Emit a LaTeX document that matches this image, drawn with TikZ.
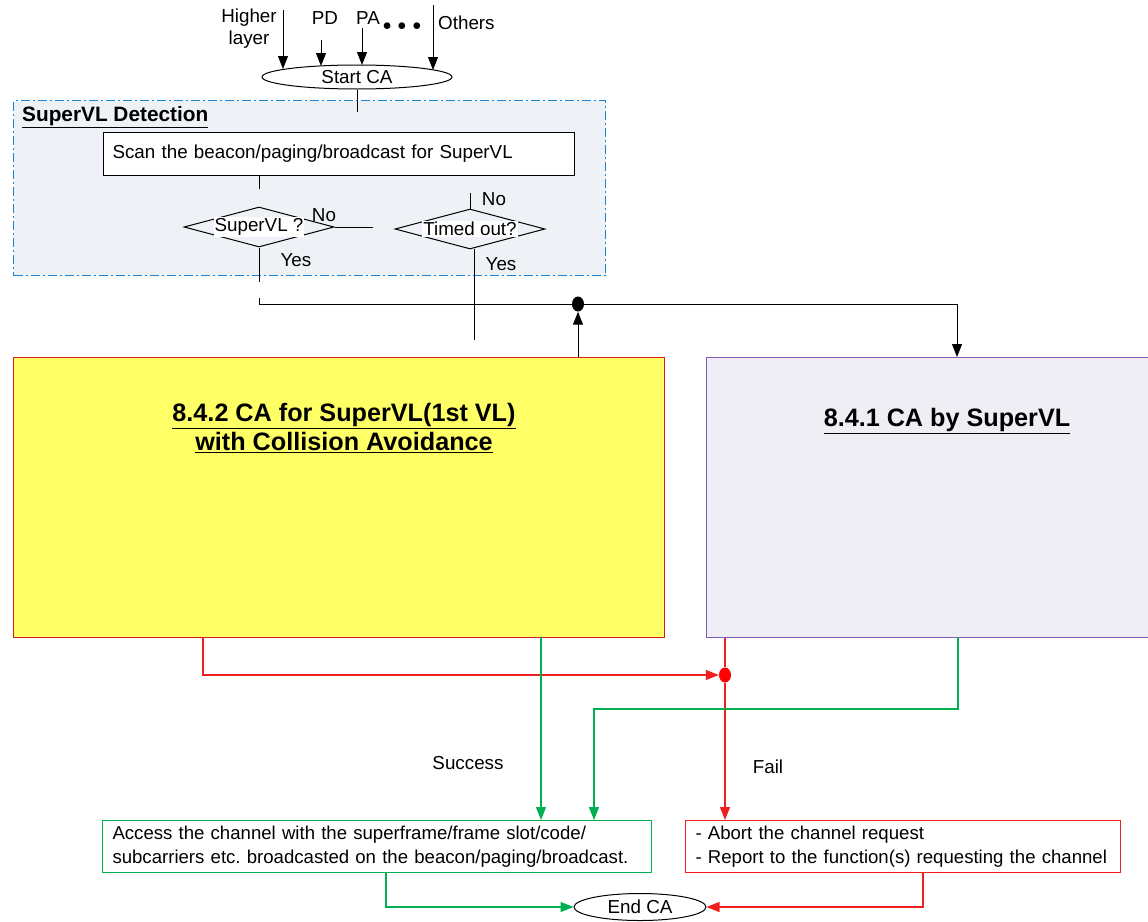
\documentclass[tikz,border=0pt]{standalone}
\usepackage{fontspec}
\setmainfont{Liberation Sans}
\usetikzlibrary{shapes.geometric,arrows.meta,calc}
\frenchspacing
\definecolor{dbord}{RGB}{30,130,210}
\definecolor{dfill}{RGB}{238,241,246}
\definecolor{yfill}{RGB}{255,255,102}
\definecolor{ybord}{RGB}{210,30,30}
\definecolor{pfill}{RGB}{240,238,245}
\definecolor{pbord}{RGB}{130,90,190}
\definecolor{gline}{RGB}{0,176,80}
\definecolor{rline}{RGB}{240,30,30}
\tikzset{
  every node/.style={font=\fontsize{18.8}{22}\selectfont},
  arr/.style={-{Triangle[length=13pt,width=10pt]}},
  conn/.style={line width=1pt},
  term/.style={ellipse,draw,line width=1pt,inner sep=0pt},
  proc/.style={rectangle,draw,line width=1pt,inner ysep=0pt,align=left},
  dec/.style={diamond,draw,line width=1pt,inner sep=0pt},
  declabel/.style={fill=white,inner sep=1pt},
  lbl/.style={inner sep=0pt},
  greenc/.style={draw=gline,line width=1.2pt},
  redc/.style={draw=rline,line width=1.2pt},
  bigtitle/.style={font=\fontsize{25.2}{29}\selectfont\bfseries,align=center,inner sep=0pt},
  dot/.style={ellipse,fill,inner sep=0pt,minimum width=12pt,minimum height=15pt}
}
\begin{document}
\begin{tikzpicture}[x=1pt,y=-1pt]
\useasboundingbox (0,0) rectangle (1148,921);
% inputs
\node[lbl,align=center] (hltxt) at (249,29) {Higher\\layer};
\node[lbl] (pdtxt) at (325,18) {PD};
\node[lbl] (patxt) at (368,18) {PA};
\node[lbl] (dots) at (402,27) {\textbf{$\bullet$\,\,$\bullet$\,\,$\bullet$}};
\node[lbl,anchor=west] (othtxt) at (438,23) {Others};
\node[term,minimum width=190pt,minimum height=24pt] (start) at (357,77) {Start CA};
\coordinate (hlA) at (283,10);  \coordinate (hlB) at (283,69);
\coordinate (pdA) at (321,40);  \coordinate (pdB) at (321,66);
\coordinate (paA) at (362,28);  \coordinate (paB) at (362,65);
\coordinate (otA) at (433,5);   \coordinate (otB) at (433,70);
\draw[conn,arr] (hlA) -- (hlB);
\draw[conn,arr] (pdA) -- (pdB);
\draw[conn,arr] (paA) -- (paB);
\draw[conn,arr] (otA) -- (otB);
% detection box
\node[draw=dbord,fill=dfill,line width=1.2pt,dash pattern=on 9pt off 3pt on 2pt off 3pt,
      minimum width=592pt,minimum height=175pt,inner sep=0pt,anchor=north west] (detect) at (13,100) {};
\node[lbl,anchor=west,font=\fontsize{20.8}{24}\selectfont\bfseries] (dettitle) at (22,117) {\underline{SuperVL Detection}};
\coordinate (stEnd) at (357,112);
\draw[conn] (start.south) -- (stEnd);
\node[proc,fill=white,minimum width=471pt,minimum height=43pt,anchor=north west,inner xsep=9pt,text width=453pt] (scan) at (103,132) {Scan the beacon/paging/broadcast for SuperVL};
\node[dec,minimum width=150pt,minimum height=40pt] (d1) at (259,227) {};
\node[declabel] (d1t) at (259,227) {SuperVL ?};
\node[dec,minimum width=150pt,minimum height=40pt] (d2) at (470,229) {};
\node[declabel] (d2t) at (470,229) {Timed out?};
\coordinate (scB) at (259,175); \coordinate (scC) at (259,189);
\draw[conn] (scB) -- (scC);
\coordinate (noEnd) at (373,227);
\draw[conn] (d1.east) -- (noEnd);
\node[lbl] (no1) at (324,215) {No};
\coordinate (d2top) at (470,193);
\draw[conn] (d2top) -- (d2.north);
\node[lbl] (no2) at (494,199) {No};
\coordinate (d1low) at (259,282);
\draw[conn] (d1.south) -- (d1low);
\node[lbl] (yes1) at (296,260) {Yes};
\coordinate (d2top2) at (474,249);
\coordinate (d2low) at (474,340);
\draw[conn] (d2top2) -- (d2low);
\node[lbl] (yes2) at (501,264) {Yes};
% main boxes
\node[draw=ybord,fill=yfill,line width=1.2pt,minimum width=651pt,minimum height=280pt,inner sep=0pt,anchor=north west] (ybox) at (13,357) {};
\node[bigtitle] (ytitle) at (344,428) {\underline{8.4.2 CA for SuperVL(1st VL)}\\\underline{with Collision Avoidance}};
\node[draw=pbord,fill=pfill,line width=1.2pt,minimum width=460pt,minimum height=280pt,inner sep=0pt,anchor=north west] (pbox) at (706,357) {};
\node[bigtitle] (ptitle) at (947,421) {\underline{8.4.1 CA by SuperVL}};
% junction
\node[dot] (bdot) at (578,304) {};
\coordinate (hlStart) at (259,298);
\coordinate (hlCorner) at (259,304);
\coordinate (prCorner) at (957,304);
\draw[conn] (hlStart) -- (hlCorner) -- (bdot);
\draw[conn,arr] (bdot) -- (prCorner) -- (pbox.north -| prCorner);
\draw[conn,arr] (ybox.north -| bdot) -- (bdot.south);
% bottom boxes
\node[proc,draw=gline,inner xsep=10pt,text width=529pt,minimum height=52pt,anchor=north west,font=\fontsize{18.6}{24}\selectfont] (acc) at (102,820) {Access the channel with the superframe/frame slot/code/\\subcarriers etc. broadcasted on the beacon/paging/broadcast.};
\node[proc,draw=rline,inner xsep=10pt,text width=415pt,minimum height=52pt,anchor=north west,font=\fontsize{18.6}{24}\selectfont] (fail) at (685,820) {- Abort the channel request\\- Report to the function(s) requesting the channel};
\node[term,minimum width=132pt,minimum height=27pt] (endca) at (640,907) {End CA};
% red path
\node[dot,fill=red] (rdot) at (725,675) {};
\coordinate (rA) at (203,637); \coordinate (rB) at (203,675);
\draw[redc,arr] (rA) -- (rB) -- (rdot.west);
\draw[redc] (pbox.south -| rdot) -- (rdot);
\draw[redc,arr] (rdot) -- (fail.north -| rdot);
% green paths
\coordinate (gA) at (541,637);
\draw[greenc,arr] (gA) -- (acc.north -| gA);
\coordinate (gB) at (958,637); \coordinate (gC) at (958,709); \coordinate (gD) at (594,709);
\draw[greenc,arr] (gB) -- (gC) -- (gD) -- (acc.north -| gD);
\node[lbl] (succ) at (468,763) {Success};
\node[lbl] (failt) at (768,767) {Fail};
% to end
\coordinate (eg) at (386,872); \coordinate (er) at (923,872);
\draw[greenc,arr] (eg) -- (eg |- endca) -- (endca.west);
\draw[redc,arr] (er) -- (er |- endca) -- (endca.east);
\end{tikzpicture}
\end{document}
